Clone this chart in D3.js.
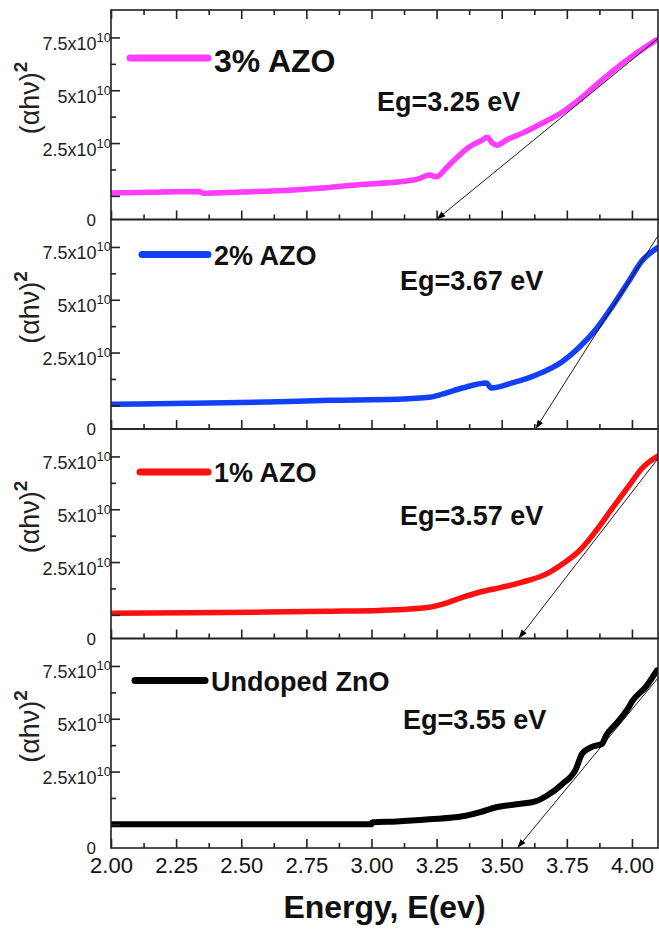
<!DOCTYPE html>
<html>
<head>
<meta charset="utf-8">
<script src="https://cdn.jsdelivr.net/npm/d3@7"></script>
<style>
  body { margin: 0; background: #fff; }
  svg { display: block; font-family: "Liberation Sans", Arial, sans-serif; }
</style>
</head>
<body>
<svg id="chart" width="659" height="932"></svg>
<script>
// values of (alpha h nu)^2 are in units of 1e10
var energyMajor = [2.00, 2.25, 2.50, 2.75, 3.00, 3.25, 3.50, 3.75, 4.00];
var energyMinor = [2.125, 2.375, 2.625, 2.875, 3.125, 3.375, 3.625, 3.875];
var yMajor = [0, 2.5, 5, 7.5];
var yMinor = [1.25, 3.75, 6.25];

var names = ["3% AZO", "2% AZO", "1% AZO", "Undoped ZnO"];
var colors = ["#ff3cff", "#1240f8", "#ff1010", "#000000"];
var egText = ["Eg=3.25 eV", "Eg=3.67 eV", "Eg=3.57 eV", "Eg=3.55 eV"];

var azo3E = [2.00, 2.15, 2.34, 2.352, 2.50, 2.70, 2.84, 2.97, 3.10, 3.18, 3.222, 3.249, 3.287, 3.326, 3.375, 3.402, 3.425, 3.444, 3.464, 3.483, 3.517, 3.579, 3.655, 3.732, 3.785, 3.862, 3.939, 3.989, 4.096];
var azo3V = [0.14, 0.17, 0.20, 0.12, 0.18, 0.28, 0.40, 0.55, 0.66, 0.80, 0.99, 0.90, 1.32, 1.79, 2.31, 2.50, 2.64, 2.78, 2.50, 2.40, 2.64, 2.97, 3.44, 3.96, 4.43, 5.24, 6.04, 6.51, 7.40];

var azo2E = [2.00, 2.30, 2.60, 2.84, 3.096, 3.222, 3.272, 3.349, 3.441, 3.46, 3.540, 3.632, 3.732, 3.797, 3.862, 3.923, 3.989, 4.038, 4.096];
var azo2V = [0.05, 0.10, 0.16, 0.24, 0.29, 0.38, 0.53, 0.82, 1.06, 0.82, 1.06, 1.44, 2.07, 2.74, 3.60, 4.66, 5.90, 6.83, 7.45];

var azo1E = [2.00, 2.30, 2.60, 2.84, 3.031, 3.222, 3.272, 3.349, 3.414, 3.502, 3.579, 3.670, 3.732, 3.797, 3.862, 3.923, 3.989, 4.038, 4.096];
var azo1V = [0.07, 0.10, 0.13, 0.17, 0.21, 0.36, 0.50, 0.83, 1.07, 1.31, 1.55, 1.93, 2.40, 3.02, 3.98, 5.02, 6.12, 6.93, 7.50];

var znoE = [2.00, 2.50, 3.00, 3.004, 3.096, 3.222, 3.349, 3.414, 3.479, 3.556, 3.632, 3.670, 3.732, 3.785, 3.808, 3.847, 3.885, 3.900, 3.939, 3.989, 4.000, 4.054, 4.096];
var znoV = [0.00, 0.00, 0.00, 0.10, 0.14, 0.24, 0.38, 0.57, 0.81, 0.95, 1.10, 1.33, 1.90, 2.62, 3.33, 3.67, 3.81, 4.19, 4.76, 5.57, 5.81, 6.52, 7.29];

// tangent lines: [E, value] at the upper end and at the arrow tip
var tangentTop = [[4.1, 7.45], [4.1, 8.03], [4.1, 7.40], [4.1, 6.93]];
var tangentTip = [[3.25, -1.12], [3.63, -1.12], [3.565, -1.12], [3.56, -1.12]];

var seriesE = [azo3E, azo2E, azo1E, znoE];
var seriesV = [azo3V, azo2V, azo1V, znoV];

var svg = d3.select("#chart");
var left = 111, right = 658, top0 = 10, panelH = 209.5;

var x = d3.scaleLinear().domain([2, 4.1]).range([left, right]);

svg.append("defs").append("marker")
  .attr("id", "arrow").attr("viewBox", "0 0 10 10")
  .attr("refX", 10).attr("refY", 5)
  .attr("markerWidth", 9).attr("markerHeight", 9)
  .attr("markerUnits", "userSpaceOnUse")
  .attr("orient", "auto")
  .append("path").attr("d", "M0,1.5 L10,5 L0,8.5 Z").attr("fill", "#000");

var legendY = [48, 35, 43, 42];
var legendX1 = [130, 142, 140, 135];
var legendX2 = [208, 208, 208, 205];
var legendSize = [32, 27, 27, 27];
var legendDy = [14, 10, 10, 10];
var egX = [377, 400, 400, 403];
var egY = [101, 70, 96, 90];

for (var p = 0; p < 4; p++) {
  var pTop = top0 + p * panelH, pBot = pTop + panelH;
  var y = d3.scaleLinear().domain([-1.12, 8.8]).range([pBot, pTop]);
  var g = svg.append("g");

  // data line
  var pts = d3.zip(seriesE[p], seriesV[p]);
  var clipId = "clip" + p;
  svg.select("defs").append("clipPath").attr("id", clipId)
    .append("rect").attr("x", left).attr("y", pTop).attr("width", right - left).attr("height", panelH);
  g.append("path").datum(pts)
    .attr("clip-path", "url(#" + clipId + ")")
    .attr("fill", "none").attr("stroke", colors[p]).attr("stroke-width", p == 3 ? 6 : 5.5)
    .attr("stroke-linejoin", "round").attr("stroke-linecap", "round")
    .attr("d", d3.line().curve(d3.curveMonotoneX).x(function (d) { return x(d[0]); }).y(function (d) { return y(d[1]); }));

  // tangent with arrow
  g.append("line")
    .attr("x1", x(tangentTop[p][0])).attr("y1", y(tangentTop[p][1]))
    .attr("x2", x(tangentTip[p][0])).attr("y2", y(tangentTip[p][1]))
    .attr("stroke", "#000").attr("stroke-width", 0.9)
    .attr("marker-end", "url(#arrow)");

  // frame
  g.append("rect").attr("x", left).attr("y", pTop).attr("width", right - left).attr("height", panelH)
    .attr("fill", "none").attr("stroke", "#222").attr("stroke-width", 1.6);

  // bottom ticks
  var bx = g.append("g").attr("transform", "translate(0," + pBot + ")");
  bx.call(d3.axisBottom(x).tickValues(energyMinor).tickSizeInner(-5).tickSizeOuter(0).tickFormat(""));
  bx.select(".domain").remove();
  var bxM = g.append("g").attr("transform", "translate(0," + pBot + ")");
  bxM.call(d3.axisBottom(x).tickValues(energyMajor).tickSizeInner(-9).tickSizeOuter(0).tickPadding(9)
    .tickFormat(p == 3 ? d3.format(".2f") : ""));
  bxM.select(".domain").remove();
  bxM.selectAll("text").attr("font-size", 22).attr("font-family", "Liberation Sans, Arial, sans-serif").attr("fill", "#111");

  if (p == 0) {
    var tx = g.append("g").attr("transform", "translate(0," + pTop + ")");
    tx.call(d3.axisTop(x).tickValues(energyMinor).tickSizeInner(-5).tickSizeOuter(0).tickFormat(""));
    tx.select(".domain").remove();
    var txM = g.append("g").attr("transform", "translate(0," + pTop + ")");
    txM.call(d3.axisTop(x).tickValues(energyMajor).tickSizeInner(-9).tickSizeOuter(0).tickFormat(""));
    txM.select(".domain").remove();
  }

  // left ticks
  var ly = g.append("g").attr("transform", "translate(" + left + ",0)");
  ly.call(d3.axisLeft(y).tickValues(yMinor).tickSizeInner(-5).tickSizeOuter(0).tickFormat(""));
  ly.select(".domain").remove();
  var lyM = g.append("g").attr("transform", "translate(" + left + ",0)");
  lyM.call(d3.axisLeft(y).tickValues(yMajor).tickSizeInner(-9).tickSizeOuter(0).tickPadding(0).tickFormat(""));
  lyM.select(".domain").remove();
  lyM.selectAll(".tick").filter(function (d) { return d > 0; }).each(function (d) {
    var t = d3.select(this).select("text").attr("dy", null).attr("y", 12)
      .attr("font-size", 18).attr("font-family", "Liberation Sans, Arial, sans-serif").attr("fill", "#222");
    t.append("tspan").text(d + "x10");
    t.append("tspan").attr("font-size", 13).attr("dy", -8).text("10");
  });
  g.selectAll(".tick line").attr("stroke", "#222").attr("stroke-width", 1.6);

  // "0" at the bottom
  g.append("text").attr("x", left - 15).attr("y", y(-1.12) + 6)
    .attr("text-anchor", "end").attr("font-size", 17).attr("fill", "#222").text("0");

  // y title
  var yt = g.append("text").attr("transform", "translate(39," + (pTop + 88) + ") rotate(-90)")
    .attr("text-anchor", "middle").attr("font-size", 27).attr("fill", "#222");
  yt.append("tspan").text("(\u03b1h\u03bd)");
  yt.append("tspan").attr("font-size", 19).attr("font-weight", "bold").attr("dy", -12).text("2");

  // legend
  g.append("line").attr("x1", legendX1[p]).attr("x2", legendX2[p])
    .attr("y1", pTop + legendY[p]).attr("y2", pTop + legendY[p])
    .attr("stroke", colors[p]).attr("stroke-width", 7).attr("stroke-linecap", "round");
  g.append("text").attr("x", legendX2[p] + 6).attr("y", pTop + legendY[p] + legendDy[p])
    .attr("font-size", legendSize[p]).attr("font-weight", "bold").attr("fill", "#111").text(names[p]);

  // band gap label
  g.append("text").attr("x", egX[p]).attr("y", pTop + egY[p])
    .attr("font-size", 27).attr("font-weight", "bold").attr("fill", "#111").text(egText[p]);
}

svg.append("text").attr("x", (left + right) / 2).attr("y", 918)
  .attr("text-anchor", "middle").attr("font-size", 32).attr("font-weight", "bold").attr("fill", "#111")
  .text("Energy, E(ev)");
</script>
</body>
</html>
